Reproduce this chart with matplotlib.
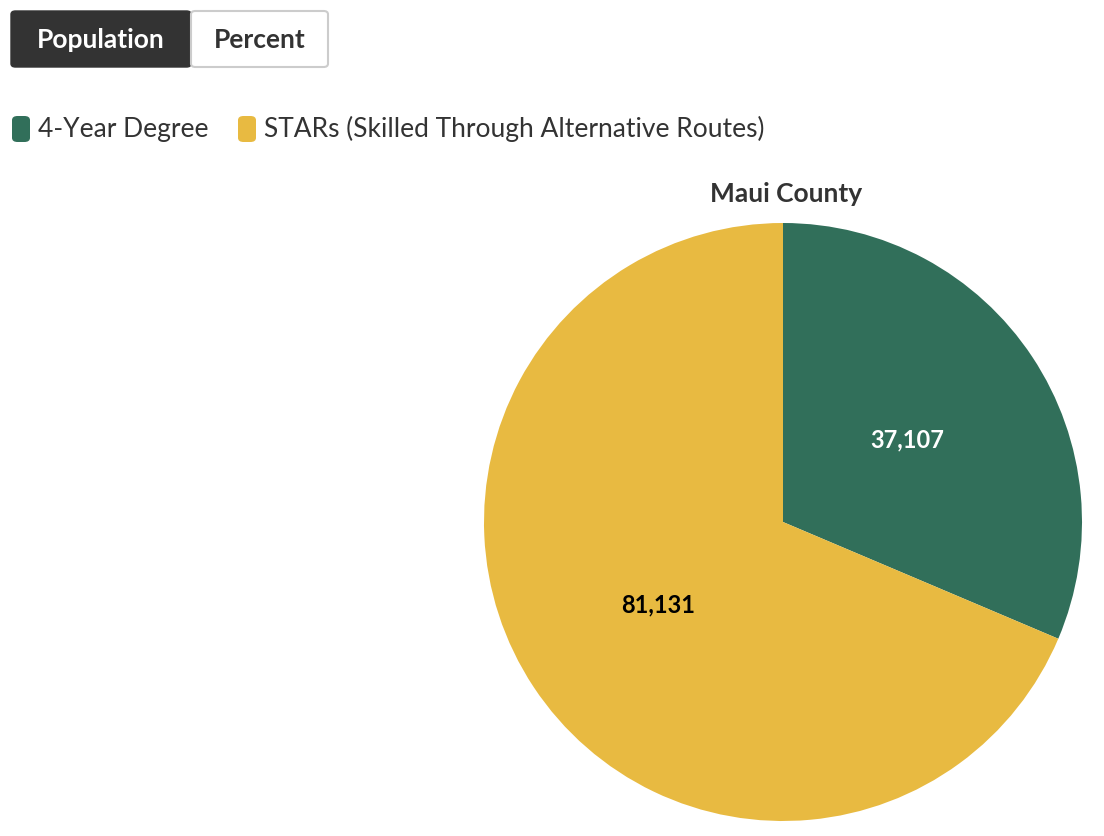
import matplotlib
matplotlib.use("Agg")
import matplotlib.pyplot as plt
from matplotlib.patches import FancyBboxPatch

categories = ["4-Year Degree", "STARs (Skilled Through Alternative Routes)"]
values = [37107, 81131]
colors = ["#316F5A", "#E8BA41"]
title = "Maui County"

plt.rcParams['font.family'] = ['Lato', 'DejaVu Sans']
W, H = 1104, 836
fig = plt.figure(figsize=(W/100, H/100), dpi=100)

def fx(x): return x / W
def fy(y): return 1 - y / H

# toggle buttons
fig.patches.append(FancyBboxPatch((fx(11), fy(67)), fx(180), 56/H, boxstyle="round,pad=0,rounding_size=0.004",
                                  transform=fig.transFigure, facecolor="#333333", edgecolor="#333333"))
fig.patches.append(FancyBboxPatch((fx(191), fy(67)), fx(137), 56/H, boxstyle="round,pad=0,rounding_size=0.004",
                                  transform=fig.transFigure, facecolor="white", edgecolor="#cccccc", linewidth=1.5))
fig.text(fx(101), fy(40), "Population", color="white", fontsize=19, fontweight="bold", ha="center", va="center")
fig.text(fx(260), fy(40), "Percent", color="#333333", fontsize=19, fontweight="bold", ha="center", va="center")

# legend
lx = [12, 238]
for x0, cat, c in zip(lx, categories, colors):
    fig.patches.append(FancyBboxPatch((fx(x0), fy(142)), fx(18), 26/H, boxstyle="round,pad=0,rounding_size=0.005",
                                      transform=fig.transFigure, facecolor=c, edgecolor="none"))
    fig.text(fx(x0 + 26), fy(129), cat, color="#333333", fontsize=19, ha="left", va="center")

fig.text(fx(786), fy(194), title, color="#333333", fontsize=19, fontweight="bold", ha="center", va="center")

ax = fig.add_axes([fx(783 - 299), fy(522 + 299), 598/W, 598/H])
total = sum(values)
wedges, texts, autotexts = ax.pie(values, colors=colors, startangle=90, counterclock=False,
                                  autopct=lambda p: f"{round(p*total/100):,}", pctdistance=0.5,
                                  wedgeprops=dict(linewidth=0))
for t, c in zip(autotexts, ["white", "black"]):
    t.set_color(c); t.set_fontsize(17); t.set_fontweight("bold")
ax.set_xlim(-1, 1); ax.set_ylim(-1, 1)
ax.set_aspect("equal")
fig.savefig("out.png", dpi=100)
